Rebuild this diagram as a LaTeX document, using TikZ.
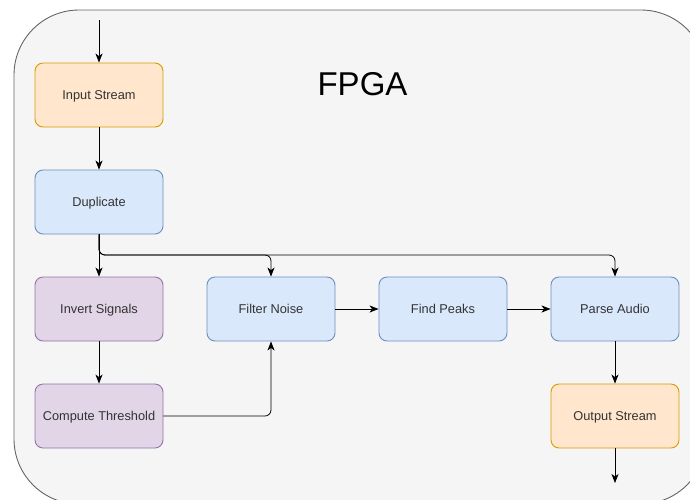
\documentclass[tikz,border=0pt]{standalone}
\usepackage{fontspec}
\setmainfont{Liberation Sans}
\usetikzlibrary{arrows.meta}
\definecolor{panelfill}{HTML}{F5F5F5}
\definecolor{panelline}{HTML}{666666}
\definecolor{orfill}{HTML}{FFE6CC}
\definecolor{orline}{HTML}{D79B00}
\definecolor{blfill}{HTML}{DAE8FC}
\definecolor{blline}{HTML}{6C8EBF}
\definecolor{pufill}{HTML}{E1D5E7}
\definecolor{puline}{HTML}{9673A6}
\definecolor{labeltext}{HTML}{333333}
\tikzset{
  stage/.style={draw, line width=0.9pt, rounded corners=8pt, minimum width=128pt,
    minimum height=64pt, inner sep=0pt, text height=9.2pt, text depth=0pt,
    font=\fontsize{12.8}{15}\selectfont, text=labeltext},
  iostage/.style={stage, fill=orfill, draw=orline},
  bluestage/.style={stage, fill=blfill, draw=blline},
  purplestage/.style={stage, fill=pufill, draw=puline},
  flow/.style={draw=black, line width=0.8pt, rounded corners=6pt,
    -{Stealth[length=9pt,width=7pt,inset=2.5pt]}},
}
\begin{document}
\begin{tikzpicture}[x=1pt,y=-1pt]
  \useasboundingbox (0,0) rectangle (690,499);
  % FPGA container, running past the right and bottom edges
  \begin{scope}
    \clip (0,0) rectangle (690,499);
    \draw[fill=panelfill, draw=panelline, line width=0.9pt, rounded corners=65pt]
      (14,10) rectangle (706,504);
  \end{scope}
  \node[font=\fontsize{33}{38}\selectfont] (title) at (362.5,84) {FPGA};

  % processing stages
  \node[iostage]     (input)  at (99,95)   {Input Stream};
  \node[bluestage]   (dup)    at (99,202)  {Duplicate};
  \node[purplestage] (invert) at (99,309)  {Invert Signals};
  \node[purplestage] (thresh) at (99,416)  {Compute Threshold};
  \node[bluestage]   (filter) at (271,309) {Filter Noise};
  \node[bluestage]   (peaks)  at (443,309) {Find Peaks};
  \node[bluestage]   (parse)  at (615,309) {Parse Audio};
  \node[iostage]     (output) at (615,416) {Output Stream};

  \coordinate (src) at (99,20);
  \coordinate (sink) at (615,483);

  % connectors
  \draw[flow] (src) -- (input);
  \draw[flow] (input) -- (dup);
  \draw[flow] (dup) -- (invert);
  \draw[flow] (dup.south) |- (185,255) -| (filter.north);
  \draw[flow] (dup.south) |- (400,255) -| (parse.north);
  \draw[flow] (invert) -- (thresh);
  \draw[flow] (thresh.east) -| (filter.south);
  \draw[flow] (filter) -- (peaks);
  \draw[flow] (peaks) -- (parse);
  \draw[flow] (parse) -- (output);
  \draw[flow] (output) -- (sink);
\end{tikzpicture}
\end{document}
